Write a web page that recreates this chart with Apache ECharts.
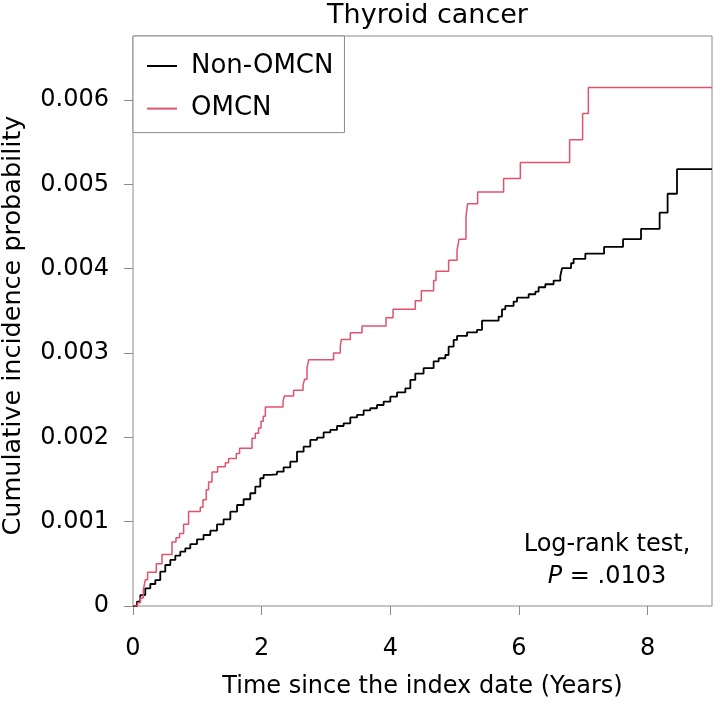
<!DOCTYPE html>
<html>
<head>
<meta charset="utf-8">
<script src="https://cdn.jsdelivr.net/npm/echarts@6/dist/echarts.min.js"></script>
<style>
  html, body { margin: 0; padding: 0; background: #fff; }
  #chart { width: 716px; height: 703px; }
</style>
</head>
<body>
<div id="chart"></div>
<script>
// ---- Data ----
const titleText = 'Thyroid cancer';
const xAxisTitle = 'Time since the index date (Years)';
const yAxisTitle = 'Cumulative incidence probability';
const seriesNames = ['Non-OMCN', 'OMCN'];

const xTicks = [0, 2, 4, 6, 8];
const xTickLabels = ['0', '2', '4', '6', '8'];
const yTicks = [0, 0.001, 0.002, 0.003, 0.004, 0.005, 0.006];
const yTickLabels = ['0', '0.001', '0.002', '0.003', '0.004', '0.005', '0.006'];

// Non-OMCN step curve: event times (years) and cumulative incidence after each step
const nonOmcnTime = [0, 0.062, 0.113, 0.191, 0.269, 0.347, 0.424, 0.502, 0.580, 0.658, 0.735, 0.813, 0.891, 0.995,
  1.097, 1.202, 1.306, 1.408, 1.513, 1.617, 1.719, 1.823, 1.901, 1.979, 2.030, 2.134, 2.238, 2.341, 2.445,
  2.549, 2.652, 2.756, 2.860, 2.963, 3.067, 3.171, 3.274, 3.378, 3.482, 3.585, 3.689, 3.793, 3.896, 4.000,
  4.104, 4.233, 4.311, 4.388, 4.517, 4.673, 4.751, 4.855, 4.906, 4.984, 5.037, 5.192, 5.347, 5.425, 5.683,
  5.736, 5.787, 5.916, 5.969, 6.150, 6.254, 6.305, 6.409, 6.538, 6.642, 6.669, 6.809, 6.849, 7.031, 7.323,
  7.617, 7.897, 8.186, 8.310, 8.456, 9.0];
const nonOmcnProb = [0, 0.000051, 0.000130, 0.000210, 0.000261, 0.000308, 0.000407, 0.000486, 0.000546, 0.000597,
  0.000644, 0.000684, 0.000735, 0.000791, 0.000842, 0.000893, 0.000969, 0.001028, 0.001119, 0.001198, 0.001266,
  0.001337, 0.001415, 0.001515, 0.001554, 0.001562, 0.001593, 0.001645, 0.001712, 0.001830, 0.001890, 0.001969,
  0.001996, 0.002058, 0.002088, 0.002135, 0.002167, 0.002236, 0.002266, 0.002321, 0.002345, 0.002384, 0.002423,
  0.002483, 0.002533, 0.002582, 0.002681, 0.002756, 0.002820, 0.002900, 0.002938, 0.002977, 0.003076, 0.003155,
  0.003203, 0.003244, 0.003274, 0.003384, 0.003432, 0.003519, 0.003559, 0.003610, 0.003657, 0.003697, 0.003728,
  0.003780, 0.003816, 0.003859, 0.003914, 0.004006, 0.004065, 0.004116, 0.004179, 0.004258, 0.004350, 0.004472,
  0.004665, 0.004889, 0.005181, 0.005181];

// OMCN step curve
const omcnTime = [0, 0.072, 0.113, 0.160, 0.191, 0.227, 0.362, 0.451, 0.606, 0.668, 0.724, 0.787, 0.864, 1.046,
  1.088, 1.139, 1.175, 1.228, 1.315, 1.435, 1.486, 1.606, 1.657, 1.850, 1.901, 1.952, 1.990, 2.025, 2.057,
  2.332, 2.352, 2.497, 2.643, 2.668, 2.705, 2.730, 3.118, 3.222, 3.238, 3.378, 3.560, 3.933, 4.042, 4.388,
  4.482, 4.673, 4.710, 4.906, 5.037, 5.068, 5.176, 5.201, 5.357, 5.761, 6.021, 6.787, 6.989, 7.078, 9.0];
const omcnProb = [0, 0.00004, 0.000095, 0.00019, 0.00031, 0.00040, 0.00050, 0.00061, 0.00076, 0.00081, 0.00086,
  0.00097, 0.00112, 0.00117, 0.00126, 0.00138, 0.00147, 0.00159, 0.00165, 0.00170, 0.00175, 0.00181, 0.00187,
  0.00199, 0.00205, 0.00211, 0.00219, 0.00225, 0.00236, 0.00242, 0.00249, 0.00256, 0.00262, 0.00269, 0.00282,
  0.00292, 0.00300, 0.00308, 0.00316, 0.00324, 0.00332, 0.00342, 0.00352, 0.00362, 0.00374, 0.00386, 0.00397,
  0.00410, 0.00422, 0.00435, 0.00462, 0.00477, 0.00491, 0.00507, 0.00526, 0.00553, 0.00584, 0.00615, 0.00615];

const annotationLine1 = 'Log-rank test,';
const annotationP = 'P';
const annotationRest = ' = .0103';

// ---- Chart ----
const FONT = 'DejaVu Sans';
const frameColor = '#8a8a8a';
const zip = (xs, ys) => xs.map((x, i) => [x, ys[i]]);

const chart = echarts.init(document.getElementById('chart'), null, { renderer: 'canvas' });
chart.setOption({
  animation: false,
  backgroundColor: '#fff',
  title: {
    text: titleText,
    left: 422.5,
    textAlign: 'center',
    top: -3,
    textStyle: { fontFamily: FONT, fontSize: 27, fontWeight: 'normal', color: '#000' }
  },
  grid: {
    left: 133, right: 4, top: 36, bottom: 97,
    outerBoundsMode: 'none',
    containLabel: false,
    show: true, borderColor: frameColor, borderWidth: 1, backgroundColor: 'transparent'
  },
  legend: {
    orient: 'vertical',
    left: 133, top: 36,
    padding: [17, 11, 11, 14],
    icon: 'rect',
    itemWidth: 30, itemHeight: 2, itemGap: 16.6,
    borderColor: frameColor, borderWidth: 1,
    backgroundColor: '#fff',
    selectedMode: false,
    textStyle: { fontFamily: FONT, fontSize: 26, color: '#000', lineHeight: 26, padding: [0, 0, 0, 9] },
    data: seriesNames
  },
  xAxis: {
    type: 'value', min: 0, max: 9, interval: 2,
    name: xAxisTitle, nameLocation: 'middle', nameGap: 69,
    nameTextStyle: { fontFamily: FONT, fontSize: 24, color: '#000' },
    axisLine: { show: false },
    splitLine: { show: false },
    axisTick: { show: true, inside: false, length: 9, lineStyle: { color: frameColor }, customValues: xTicks },
    axisLabel: {
      fontFamily: FONT, fontSize: 24, color: '#000', margin: 31,
      customValues: xTicks,
      formatter: v => xTickLabels[xTicks.indexOf(v)] ?? ''
    }
  },
  yAxis: {
    type: 'value', min: 0, max: 0.00676, interval: 0.001,
    name: yAxisTitle, nameLocation: 'middle', nameGap: 107, nameRotate: 90,
    nameTextStyle: { fontFamily: FONT, fontSize: 25.5, color: '#000', padding: [0, 9, 0, 0] },
    axisLine: { show: false },
    splitLine: { show: false },
    axisTick: { show: true, inside: false, length: 9, lineStyle: { color: frameColor }, customValues: yTicks },
    axisLabel: {
      fontFamily: FONT, fontSize: 24, color: '#000', margin: 24,
      customValues: yTicks,
      formatter: v => {
        const i = yTicks.findIndex(t => Math.abs(t - v) < 1e-9);
        return i >= 0 ? yTickLabels[i] : '';
      }
    }
  },
  series: [
    {
      name: seriesNames[0], type: 'line', step: 'end',
      data: zip(nonOmcnTime, nonOmcnProb),
      symbol: 'none', color: '#000',
      lineStyle: { color: '#000', width: 1.8 }
    },
    {
      name: seriesNames[1], type: 'line', step: 'end',
      data: zip(omcnTime, omcnProb),
      symbol: 'none', color: '#DF536B',
      lineStyle: { color: '#DF536B', width: 1.5 }
    }
  ],
  graphic: [{
    type: 'text',
    x: 607, y: 561,
    style: {
      text: '{n|' + annotationLine1 + '}\n{i|' + annotationP + '}{n|' + annotationRest + '}',
      align: 'center', verticalAlign: 'middle',
      rich: {
        n: { fontFamily: FONT, fontSize: 24, color: '#000', lineHeight: 32 },
        i: { fontFamily: FONT, fontSize: 24, color: '#000', lineHeight: 32, fontStyle: 'italic' }
      }
    }
  }]
});
</script>
</body>
</html>
